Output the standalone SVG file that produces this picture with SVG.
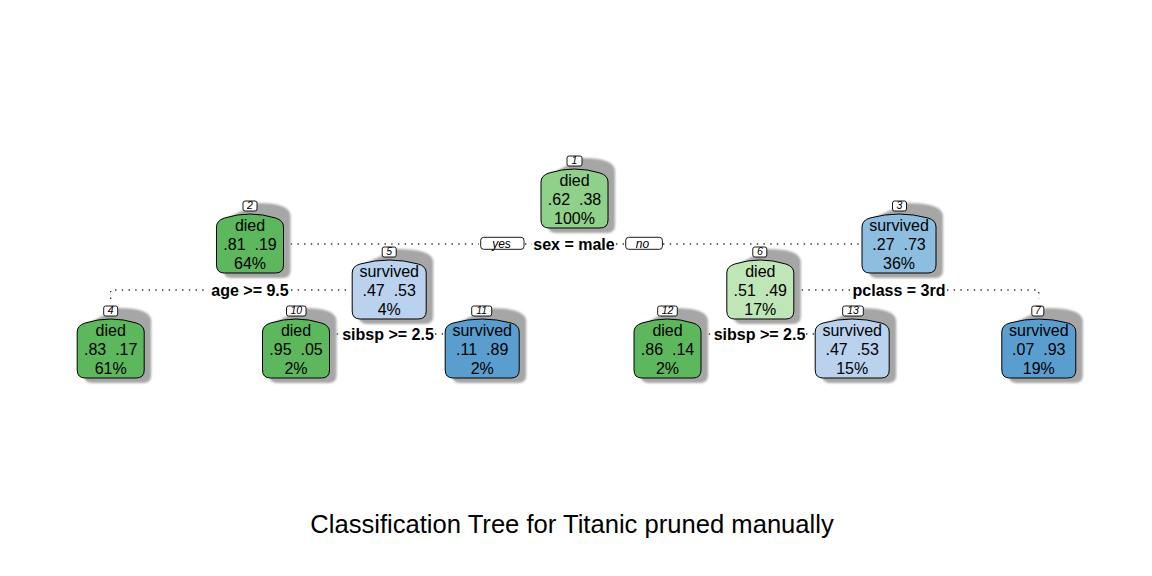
<svg xmlns="http://www.w3.org/2000/svg" xmlns:xlink="http://www.w3.org/1999/xlink" width="1152" height="576" viewBox="0 0 1152 576">
<style>
.nt{font-family:"Liberation Sans",Arial,sans-serif;font-size:16px;fill:#000;text-anchor:middle;white-space:pre}
.st{font-family:"Liberation Sans",Arial,sans-serif;font-size:16px;font-weight:bold;fill:#000;text-anchor:middle}
.lb{fill:#fff;stroke:#000;stroke-width:0.9}
.lt{font-family:"Liberation Sans",Arial,sans-serif;font-size:10.5px;font-style:italic;fill:#000;text-anchor:middle}
.yt{font-family:"Liberation Sans",Arial,sans-serif;font-size:12px;font-style:italic;fill:#000;text-anchor:middle}
.box{stroke:#000;stroke-width:1}
.sh{fill:#a6a6a6;filter:url(#blur)}
.con{fill:none;stroke:#333;stroke-width:1.3;stroke-dasharray:1.4 5.3}
.dg{fill:#5DB75C}.mg{fill:#8FD08A}.lg{fill:#BFE6B6}
.lbl{fill:#BAD2EE}.mb{fill:#8DBEDF}.db{fill:#5A9ECF}
.title{font-family:"Liberation Sans",Arial,sans-serif;font-size:25.6px;fill:#000;text-anchor:middle}
</style>
<defs>
<filter id="blur" x="-20%" y="-20%" width="140%" height="140%"><feGaussianBlur stdDeviation="1.2"/></filter>
<path id="bd" d="M -33.5,-17 Q -33.5,-23.5 -25.5,-26 Q 0,-34 25.5,-26 Q 33.5,-23.5 33.5,-17 L 33.5,21 Q 33.5,29 25.5,29 L -25.5,29 Q -33.5,29 -33.5,21 Z"/>
<path id="bs" d="M -37,-17 Q -37,-23.8 -29,-26 Q 0,-34 29,-26 Q 37,-23.8 37,-17 L 37,21 Q 37,29 29,29 L -29,29 Q -37,29 -37,21 Z"/>
<path id="sd" d="M -26.5,-20 Q -26.5,-26 -20,-27 L 7,-41 Q 40.5,-41 40.5,-28 L 40.5,26 Q 40.5,34 32.5,34 L -18.5,34 Q -26.5,34 -26.5,26 Z"/>
<path id="ss" d="M -30,-20 Q -30,-26 -23,-27 L 7,-41 Q 44,-41 44,-28 L 44,26 Q 44,34 36,34 L -22,34 Q -30,34 -30,26 Z"/>
</defs>
<rect width="1152" height="576" fill="#fff"/>

<g id="connectors">
<path class="con" d="M 284,244 L 479,244"/>
<path class="con" d="M 525,244 L 532,244"/>
<path class="con" d="M 616,244 L 624,244"/>
<path class="con" d="M 663,244 L 861,244"/>
<path class="con" d="M 110.7,299 L 110.7,290 L 208,290"/>
<path class="con" d="M 291,290 L 350,290"/>
<path class="con" d="M 330,334 L 341,334"/>
<path class="con" d="M 435,334 L 444,334"/>
<path class="con" d="M 795,290 L 850,290"/>
<path class="con" d="M 947,290 L 1038.8,290 L 1038.8,299"/>
<path class="con" d="M 702,334 L 712,334"/>
<path class="con" d="M 806,334 L 815,334"/>
<rect class="lb" x="480.7" y="237.3" width="43.3" height="12" rx="3"/>
<text class="yt" x="501.5" y="247.6">yes</text>
<rect class="lb" x="625.7" y="237.3" width="36.7" height="12" rx="3"/>
<text class="yt" x="642.5" y="247.6">no</text>
<text class="st" x="574" y="249.7">sex = male</text>
<text class="st" x="250" y="295.7">age &gt;= 9.5</text>
<text class="st" x="899" y="295.7">pclass = 3rd</text>
<text class="st" x="388" y="339.7">sibsp &gt;= 2.5</text>
<text class="st" x="759.5" y="339.7">sibsp &gt;= 2.5</text>
</g>

<g id="node1" transform="translate(574.5,199)">
<use xlink:href="#sd" class="sh"/>
<use xlink:href="#bd" class="box mg"/>
<rect class="lb" x="-7.5" y="-43" width="15" height="10" rx="2"/>
<text class="lt" x="0" y="-34.8">1</text>
<text class="nt" x="0" y="-13.3">died</text>
<text class="nt" x="0" y="5.7">.62  .38</text>
<text class="nt" x="0" y="24.7">100%</text>
</g>

<g id="node2" transform="translate(250,244)">
<use xlink:href="#sd" class="sh"/>
<use xlink:href="#bd" class="box dg"/>
<rect class="lb" x="-7" y="-43" width="14" height="10" rx="2"/>
<text class="lt" x="0" y="-34.8">2</text>
<text class="nt" x="0" y="-13.3">died</text>
<text class="nt" x="0" y="5.7">.81  .19</text>
<text class="nt" x="0" y="24.7">64%</text>
</g>

<g id="node3" transform="translate(899,244)">
<use xlink:href="#ss" class="sh"/>
<use xlink:href="#bs" class="box mb"/>
<rect class="lb" x="-6.5" y="-43" width="14" height="10" rx="2"/>
<text class="lt" x="0.5" y="-34.8">3</text>
<text class="nt" x="0" y="-13.3">survived</text>
<text class="nt" x="0" y="5.7">.27  .73</text>
<text class="nt" x="0" y="24.7">36%</text>
</g>

<g id="node4" transform="translate(110.7,349)">
<use xlink:href="#sd" class="sh"/>
<use xlink:href="#bd" class="box dg"/>
<rect class="lb" x="-7" y="-43" width="14" height="10" rx="2"/>
<text class="lt" x="0" y="-34.8">4</text>
<text class="nt" x="0" y="-13.3">died</text>
<text class="nt" x="0" y="5.7">.83  .17</text>
<text class="nt" x="0" y="24.7">61%</text>
</g>

<g id="node5" transform="translate(389.2,290)">
<use xlink:href="#ss" class="sh"/>
<use xlink:href="#bs" class="box lbl"/>
<rect class="lb" x="-7" y="-43" width="14" height="10" rx="2"/>
<text class="lt" x="0" y="-34.8">5</text>
<text class="nt" x="0" y="-13.3">survived</text>
<text class="nt" x="0" y="5.7">.47  .53</text>
<text class="nt" x="0" y="24.7">4%</text>
</g>

<g id="node6" transform="translate(760.3,290)">
<use xlink:href="#sd" class="sh"/>
<use xlink:href="#bd" class="box lg"/>
<rect class="lb" x="-7.5" y="-43" width="14" height="10" rx="2"/>
<text class="lt" x="-0.5" y="-34.8">6</text>
<text class="nt" x="0" y="-13.3">died</text>
<text class="nt" x="0" y="5.7">.51  .49</text>
<text class="nt" x="0" y="24.7">17%</text>
</g>

<g id="node7" transform="translate(1038.8,349)">
<use xlink:href="#ss" class="sh"/>
<use xlink:href="#bs" class="box db"/>
<rect class="lb" x="-7" y="-43" width="12" height="10" rx="2"/>
<text class="lt" x="-1" y="-34.8">7</text>
<text class="nt" x="0" y="-13.3">survived</text>
<text class="nt" x="0" y="5.7">.07  .93</text>
<text class="nt" x="0" y="24.7">19%</text>
</g>

<g id="node10" transform="translate(296,349)">
<use xlink:href="#sd" class="sh"/>
<use xlink:href="#bd" class="box dg"/>
<rect class="lb" x="-9.5" y="-43" width="19.5" height="10" rx="2"/>
<text class="lt" x="0.3" y="-34.8">10</text>
<text class="nt" x="0" y="-13.3">died</text>
<text class="nt" x="0" y="5.7">.95  .05</text>
<text class="nt" x="0" y="24.7">2%</text>
</g>

<g id="node11" transform="translate(482.2,349)">
<use xlink:href="#ss" class="sh"/>
<use xlink:href="#bs" class="box db"/>
<rect class="lb" x="-10.5" y="-43" width="20" height="10" rx="2"/>
<text class="lt" x="-0.5" y="-34.8">11</text>
<text class="nt" x="0" y="-13.3">survived</text>
<text class="nt" x="0" y="5.7">.11  .89</text>
<text class="nt" x="0" y="24.7">2%</text>
</g>

<g id="node12" transform="translate(667.5,349)">
<use xlink:href="#sd" class="sh"/>
<use xlink:href="#bd" class="box dg"/>
<rect class="lb" x="-9.8" y="-43" width="19.6" height="10" rx="2"/>
<text class="lt" x="0" y="-34.8">12</text>
<text class="nt" x="0" y="-13.3">died</text>
<text class="nt" x="0" y="5.7">.86  .14</text>
<text class="nt" x="0" y="24.7">2%</text>
</g>

<g id="node13" transform="translate(852.2,349)">
<use xlink:href="#ss" class="sh"/>
<use xlink:href="#bs" class="box lbl"/>
<rect class="lb" x="-9.5" y="-43" width="20.6" height="10" rx="2"/>
<text class="lt" x="0.8" y="-34.8">13</text>
<text class="nt" x="0" y="-13.3">survived</text>
<text class="nt" x="0" y="5.7">.47  .53</text>
<text class="nt" x="0" y="24.7">15%</text>
</g>

<text class="title" x="572" y="533">Classification Tree for Titanic pruned manually</text>
</svg>
